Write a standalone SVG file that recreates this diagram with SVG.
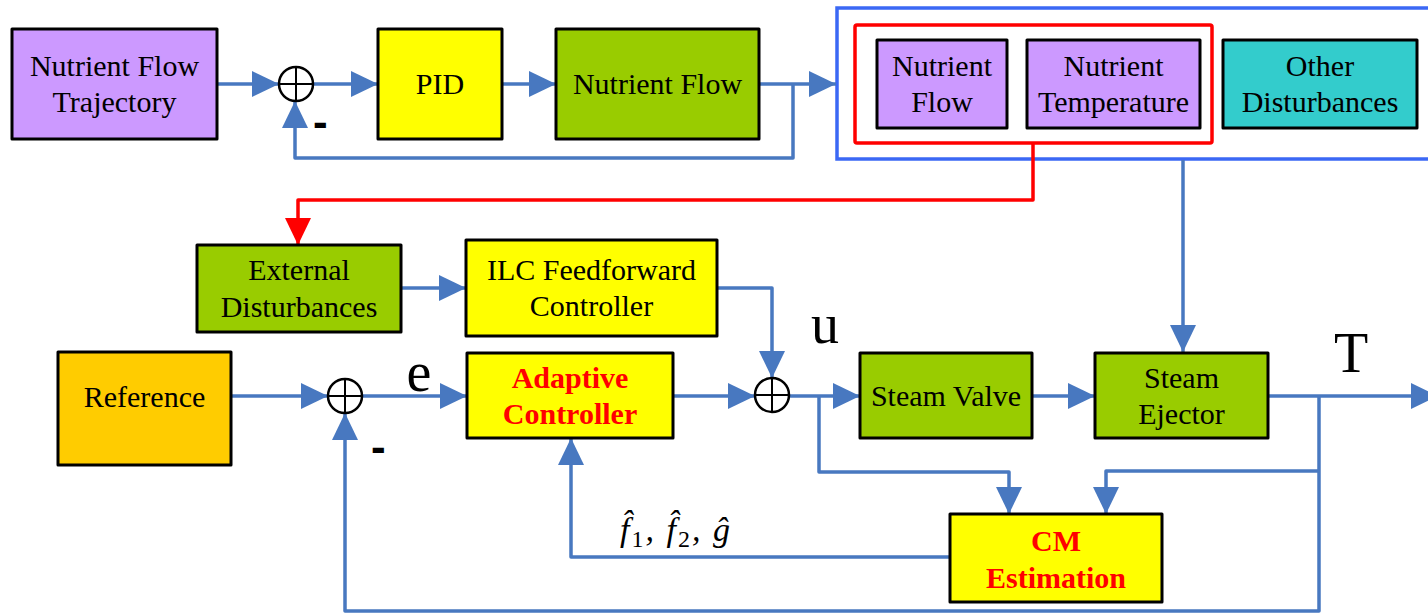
<svg xmlns="http://www.w3.org/2000/svg" width="1428" height="613" viewBox="0 0 1428 613">
<style>
.box{stroke:#000;stroke-width:3;stroke-linejoin:round}
.t{font-family:"Liberation Serif","Times New Roman",serif;font-size:30px;fill:#000;text-anchor:middle}
.b{font-family:"Liberation Serif","Times New Roman",serif;font-size:30px;font-weight:bold;fill:#FF0000;text-anchor:middle}
.big{font-family:"Liberation Serif","Times New Roman",serif;font-size:56px;fill:#000;text-anchor:middle}
.m{font-family:"Liberation Serif","Times New Roman",serif;font-style:italic;font-size:34px;fill:#000;letter-spacing:2px}
.sub{font-style:normal;font-size:24px}
.dash{font-family:"Liberation Sans",Arial,sans-serif;font-weight:bold;font-size:44px;fill:#000}
.c{fill:none;stroke:#4878C0;stroke-width:3.5;stroke-linejoin:round}
.r{fill:none;stroke:#FF0000;stroke-width:3.5;stroke-linejoin:round}
.sum{fill:#fff;stroke:#000;stroke-width:2.5}
</style>
<defs>
<marker id="ab" markerUnits="userSpaceOnUse" markerWidth="28" markerHeight="28" refX="27" refY="13" orient="auto"><path d="M0,0 L27,13 L0,26 z" fill="#4878C0"/></marker>
<marker id="ar" markerUnits="userSpaceOnUse" markerWidth="28" markerHeight="28" refX="27" refY="13" orient="auto"><path d="M0,0 L27,13 L0,26 z" fill="#FF0000"/></marker>
</defs>

<g id="groups">
<rect x="837" y="8" width="600" height="151" fill="none" stroke="#3B68F5" stroke-width="3.5"/>
<rect x="855" y="25" width="357" height="118" rx="2" fill="none" stroke="#FF0000" stroke-width="3.5"/>
</g>

<g id="connectors">
<path class="c" d="M217,84 H279" marker-end="url(#ab)"/>
<path class="c" d="M313,84 H378" marker-end="url(#ab)"/>
<path class="c" d="M502,84 H556" marker-end="url(#ab)"/>
<path class="c" d="M759,84 H836" marker-end="url(#ab)"/>
<path class="c" d="M793,84 V158 H295 V101" marker-end="url(#ab)"/>
<path class="r" d="M1033,143 V200 H298 V245" marker-end="url(#ar)"/>
<path class="c" d="M1183,160 V352" marker-end="url(#ab)"/>
<path class="c" d="M401,288 H466" marker-end="url(#ab)"/>
<path class="c" d="M717,288 H772 V378" marker-end="url(#ab)"/>
<path class="c" d="M231,396 H328" marker-end="url(#ab)"/>
<path class="c" d="M362,396 H467" marker-end="url(#ab)"/>
<path class="c" d="M673,396 H755" marker-end="url(#ab)"/>
<path class="c" d="M789,396 H860" marker-end="url(#ab)"/>
<path class="c" d="M819,396 V472 H1009 V514" marker-end="url(#ab)"/>
<path class="c" d="M1032,396 H1095" marker-end="url(#ab)"/>
<path class="c" d="M1268,396 H1438" marker-end="url(#ab)"/>
<path class="c" d="M1319,396 V611 H345 V413" marker-end="url(#ab)"/>
<path class="c" d="M1319,471 H1106 V514" marker-end="url(#ab)"/>
<path class="c" d="M950,557 H571 V438" marker-end="url(#ab)"/>
</g>

<g id="sum1"><circle class="sum" cx="296" cy="84" r="17"/><path d="M279,84 H313 M296,67 V101" stroke="#000" stroke-width="2"/></g>
<g id="sum2"><circle class="sum" cx="772" cy="395" r="17"/><path d="M755,395 H789 M772,378 V412" stroke="#000" stroke-width="2"/></g>
<g id="sum3"><circle class="sum" cx="345" cy="396" r="17"/><path d="M328,396 H362 M345,379 V413" stroke="#000" stroke-width="2"/></g>

<g id="nutrient-flow-trajectory"><rect class="box" x="12" y="29" width="205" height="110" fill="#CC99FF"/><text class="t" x="114.5" y="76">Nutrient Flow</text><text class="t" x="114.5" y="112">Trajectory</text></g>
<g id="pid"><rect class="box" x="378" y="29" width="124" height="110" fill="#FFFF00"/><text class="t" x="440" y="94">PID</text></g>
<g id="nutrient-flow"><rect class="box" x="556" y="29" width="203" height="110" fill="#99CC00"/><text class="t" x="657.5" y="94">Nutrient Flow</text></g>
<g id="nutrient-flow-dist"><rect class="box" x="877" y="40" width="130" height="88" fill="#CC99FF"/><text class="t" x="942" y="76">Nutrient</text><text class="t" x="942" y="112">Flow</text></g>
<g id="nutrient-temperature"><rect class="box" x="1027" y="40" width="173" height="88" fill="#CC99FF"/><text class="t" x="1113.5" y="76">Nutrient</text><text class="t" x="1113.5" y="112">Temperature</text></g>
<g id="other-disturbances"><rect class="box" x="1223" y="40" width="194" height="88" fill="#33CCCC"/><text class="t" x="1320" y="76">Other</text><text class="t" x="1320" y="112">Disturbances</text></g>
<g id="external-disturbances"><rect class="box" x="197" y="245" width="204" height="87" fill="#99CC00"/><text class="t" x="299" y="280">External</text><text class="t" x="299" y="317">Disturbances</text></g>
<g id="ilc"><rect class="box" x="466" y="240" width="251" height="96" fill="#FFFF00"/><text class="t" x="591.5" y="280">ILC Feedforward</text><text class="t" x="591.5" y="316">Controller</text></g>
<g id="reference"><rect class="box" x="58" y="352" width="173" height="113" fill="#FFCC00"/><text class="t" x="144.5" y="407">Reference</text></g>
<g id="adaptive-controller"><rect class="box" x="467" y="353" width="206" height="85" fill="#FFFF00"/><text class="b" x="570" y="388">Adaptive</text><text class="b" x="570" y="424">Controller</text></g>
<g id="steam-valve"><rect class="box" x="860" y="353" width="172" height="85" fill="#99CC00"/><text class="t" x="946" y="406">Steam Valve</text></g>
<g id="steam-ejector"><rect class="box" x="1095" y="353" width="173" height="85" fill="#99CC00"/><text class="t" x="1181.5" y="388">Steam</text><text class="t" x="1181.5" y="424">Ejector</text></g>
<g id="cm-estimation"><rect class="box" x="950" y="514" width="212" height="88" fill="#FFFF00"/><text class="b" x="1056" y="551">CM</text><text class="b" x="1056" y="588">Estimation</text></g>

<g id="labels">
<text class="dash" x="313" y="137">-</text>
<text class="dash" x="371" y="462">-</text>
<text class="big" x="825" y="343">u</text>
<text class="big" x="419" y="391">e</text>
<text class="big" x="1351" y="372">T</text>
<text class="m" x="620" y="541">f̂<tspan class="sub" dy="6">1</tspan><tspan dy="-6">, f̂</tspan><tspan class="sub" dy="6">2</tspan><tspan dy="-6">, ĝ</tspan></text>
</g>
</svg>
